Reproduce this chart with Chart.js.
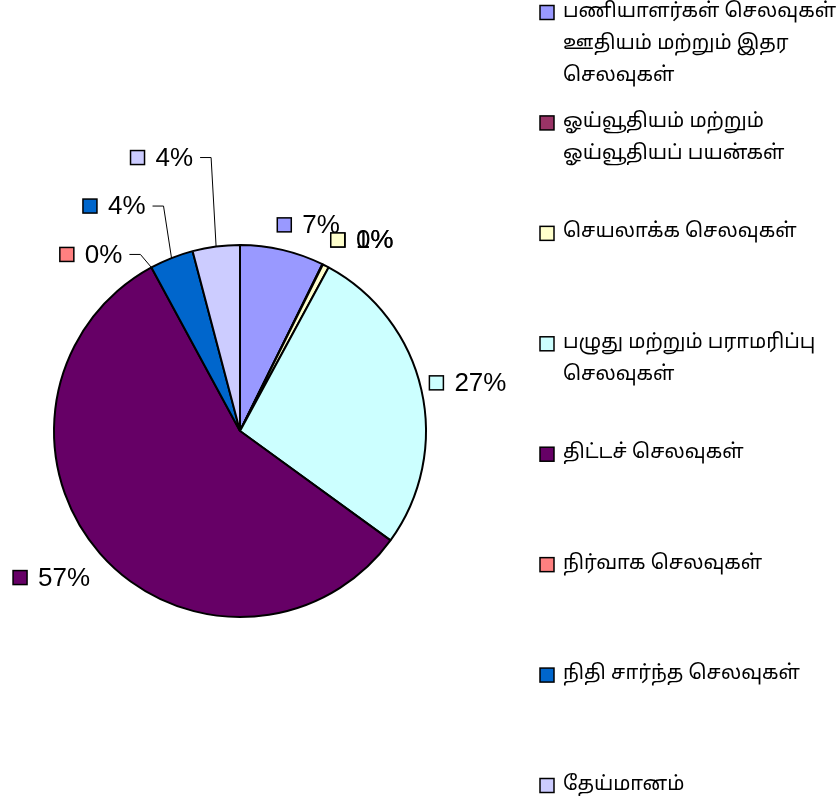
<!DOCTYPE html>
<html>
<head>
<meta charset="utf-8">
<script src="https://cdn.jsdelivr.net/npm/chart.js@4.4.1/dist/chart.umd.min.js"></script>
<style>
html,body{margin:0;padding:0;background:#fff;}
#wrap{width:838px;height:810px;position:relative;}
</style>
</head>
<body>
<div id="wrap"><canvas id="c" width="838" height="810"></canvas></div>
<script>
// Categories (legend text, wrapped as in the reference)
const categories = [
  ["பணியாளர்கள் செலவுகள்", "ஊதியம் மற்றும் இதர", "செலவுகள்"],
  ["ஓய்வூதியம் மற்றும்", "ஓய்வூதியப் பயன்கள்"],
  ["செயலாக்க செலவுகள்"],
  ["பழுது மற்றும் பராமரிப்பு", "செலவுகள்"],
  ["திட்டச் செலவுகள்"],
  ["நிர்வாக செலவுகள்"],
  ["நிதி சார்ந்த செலவுகள்"],
  ["தேய்மானம்"]
];
// Share of total expenditure (percent)
const values = [7.3, 0.05, 0.55, 27.1, 57.1, 0.0, 3.8, 4.1];
const colors = ["#9999FF", "#993366", "#FFFFCC", "#CCFFFF", "#660066", "#FF8080", "#0066CC", "#CCCCFF"];

// Label layout (how each percentage label sits relative to its slice edge)
// mode 'r': label box left at edge + (dx,dy); 'l': text right at edge + (dx,dy); 'lead': leader line via elbow offset
const labelLayout = [
  {mode: 'r', dx: -5, dy: -25},
  {mode: 'r', dx: 8.4, dy: -24.3},
  {mode: 'r', dx: 5, dy: -26},
  {mode: 'r', dx: 8, dy: -7},
  {mode: 'l', dx: -10, dy: 24},
  {mode: 'lead', dx: -11, dy: -13},
  {mode: 'lead', dx: -8, dy: -52},
  {mode: 'lead', dx: -5, dy: -89}
];

const LABEL_FONT = '26px "Liberation Sans", Arial, sans-serif';
const LEGEND_FONT = '20px "Noto Sans Tamil", "Latha", "Lohit Tamil", "Noto Sans", sans-serif';

function swatch(ctx, x, y, color) {
  ctx.fillStyle = color;
  ctx.fillRect(x, y, 14, 14);
  ctx.strokeStyle = '#000';
  ctx.lineWidth = 1.5;
  ctx.strokeRect(x, y, 14, 14);
}

const overlay = {
  id: 'overlay',
  afterDraw(chart) {
    const ctx = chart.ctx;
    const meta = chart.getDatasetMeta(0);
    const total = values.reduce((a, b) => a + b, 0);
    ctx.save();
    ctx.font = LABEL_FONT;
    ctx.textBaseline = 'middle';
    meta.data.forEach((arc, i) => {
      const p = arc.getProps(['x', 'y', 'startAngle', 'endAngle', 'outerRadius'], true);
      const mid = (p.startAngle + p.endAngle) / 2;
      const ex = p.x + Math.cos(mid) * p.outerRadius;
      const ey = p.y + Math.sin(mid) * p.outerRadius;
      const txt = Math.round(values[i] / total * 100) + '%';
      const tw = ctx.measureText(txt).width;
      const L = labelLayout[i];
      let boxLeft, cy;
      if (L.mode === 'r') {
        boxLeft = ex + L.dx; cy = ey + L.dy;
      } else if (L.mode === 'l') {
        boxLeft = ex + L.dx - tw - 25; cy = ey + L.dy;
      } else {
        const bx = ex + L.dx, by = ey + L.dy;
        ctx.strokeStyle = '#000';
        ctx.lineWidth = 1;
        ctx.beginPath();
        ctx.moveTo(ex, ey);
        ctx.lineTo(bx, by);
        ctx.lineTo(bx - 11, by);
        ctx.stroke();
        boxLeft = bx - 11 - 7 - tw - 25; cy = by;
      }
      swatch(ctx, boxLeft, cy - 7, colors[i]);
      ctx.fillStyle = '#000';
      ctx.textAlign = 'left';
      ctx.fillText(txt, boxLeft + 25, cy + 1);
    });
    // Legend
    ctx.font = LEGEND_FONT;
    const top = 12.5, step = (785.5 - 12.5) / 7;
    categories.forEach((lines, i) => {
      const cy = top + i * step;
      swatch(ctx, 540, cy - 7, colors[i]);
      ctx.fillStyle = '#000';
      lines.forEach((ln, j) => {
        ctx.fillText(ln, 563, cy + j * 32);
      });
    });
    ctx.restore();
  }
};

new Chart(document.getElementById('c'), {
  type: 'pie',
  data: {
    labels: categories.map(c => c.join(' ')),
    datasets: [{
      data: values,
      backgroundColor: colors,
      borderColor: '#000',
      borderWidth: 2,
      borderAlign: 'center'
    }]
  },
  options: {
    responsive: false,
    animation: false,
    layout: {padding: {left: 53, right: 411, top: 244, bottom: 192}},
    plugins: {legend: {display: false}, tooltip: {enabled: false}}
  },
  plugins: [overlay]
});
</script>
</body>
</html>
